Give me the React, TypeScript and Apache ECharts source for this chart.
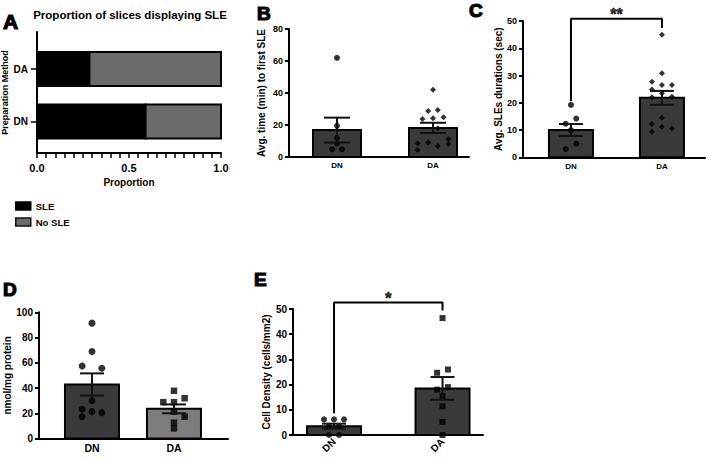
import React, { useEffect, useRef } from "react";
import * as echarts from "echarts";

const FONT = '"Liberation Sans", Arial, Helvetica, sans-serif';

// ---- A: proportion of slices displaying SLE ----
const prepMethods = ["DN", "DA"];
const sleShare = [0.59, 0.285];
const noSleShare = [0.41, 0.715];
const proportionLabels = [0, 0.5, 1];

// ---- shared group names ----
const groups = ["DN", "DA"];

// ---- B: average time (min) to first SLE ----
const bMeans = [16.8, 18.2];
const bSem = [7.8, 3.2];
const bDn = [62, 19.5, 12, 8.5, 4.8, 4.8];
const bDnJitter = [0, 0, 0, 0, -0.05, 0.05];
const bDa = [42, 28.8, 29.4, 23.8, 24.2, 24.8, 18, 8.5, 9, 6.9, 8.1, 11.2, 4.4];
const bDaJitter = [0, -0.05, 0.05, -0.11, 0, 0.11, 0.05, -0.16, -0.05, 0.05, 0.16, 0.16, -0.16];

// ---- C: average SLE duration (sec) ----
const cMeans = [10.0, 21.8];
const cSem = [2.2, 2.55];
const cDn = [19.2, 12.3, 14.2, 10, 5, 3];
const cDnJitter = [0, -0.058, 0.058, 0, 0.058, -0.058];
const cDa = [45, 30.8, 27.7, 26.5, 26.5, 24.9, 23.5, 22, 22.2, 14.5, 12.2, 11.2, 10.6, 9.4];
const cDaJitter = [0, 0, -0.11, 0, 0.11, -0.11, 0, -0.11, 0.11, 0, -0.11, 0, 0.11, -0.11];
const cBracket = [20.6, 50.8, 47.4];
const cStarY = 52.4;

// ---- D: nmol/mg protein ----
const dMeans = [42.8, 23.5];
const dSem = [8.8, 3.5];
const dDn = [91.4, 68.9, 57.5, 55.7, 30, 23.2, 21.3, 20.5, 17.3];
const dDnJitter = [0, 0, -0.12, 0.12, 0, -0.12, 0, 0.12, -0.12];
const dDa = [37.8, 28.8, 28.8, 31.9, 21.3, 17.3, 12.5, 8];
const dDaJitter = [0, -0.13, 0, 0.13, 0, 0.13, 0, 0];

// ---- E: cell density (cells/mm2) ----
const eMeans = [3.5, 18.5];
const eSem = [1.0, 4.5];
const eDn = [6.2, 6.2, 6.2, 3.6, 3.6, 0, 0];
const eDnJitter = [-0.092, 0, 0.092, -0.046, 0.046, -0.046, 0.046];
const eDa = [46.4, 24.7, 26, 18, 19, 15.4, 11.4, 5.2, 0];
const eDaJitter = [0, -0.05, 0.05, -0.05, 0.05, 0, 0, 0, 0];
const eBracket = [8.6, 52.6, 49.4];
const eStarY = 54.2;

const BLACK = "#000";
const DARK = "#3a3a3a";
const LIGHT = "#7d7d7d";
const A_GREY = "#6b6b6b";

const bold = (size: number) => ({ fontFamily: FONT, fontWeight: "bold" as const, fontSize: size, color: BLACK });

const groupAxis = (grid: number, min: number, max: number, size: number, margin: number, rotate = 0) => ({
  type: "value",
  gridIndex: grid,
  min,
  max,
  axisLine: { show: true, onZero: false, lineStyle: { color: BLACK, width: 2 } },
  axisTick: { show: false },
  splitLine: { show: false },
  axisLabel: {
    customValues: [1, 2],
    formatter: (v: number) => groups[Math.round(v) - 1] ?? "",
    margin,
    rotate,
    ...bold(size),
  },
});

const valueAxis = (grid: number, max: number, interval: number, name: string, nameGap: number, labelSize: number) => ({
  type: "value",
  gridIndex: grid,
  min: 0,
  max,
  interval,
  axisLine: { show: true, onZero: false, lineStyle: { color: BLACK, width: 2 } },
  axisTick: { show: true, length: 4, lineStyle: { color: BLACK, width: 2 } },
  splitLine: { show: false },
  axisLabel: { margin: 6, ...bold(labelSize) },
  name,
  nameLocation: "middle",
  nameGap,
  nameTextStyle: bold(10),
});

const barSeries = (axis: number, means: number[], colors: string[], barPx: number) => ({
  type: "custom",
  xAxisIndex: axis,
  yAxisIndex: axis,
  z: 2,
  silent: true,
  data: means.map((m, i) => [i + 1, m, i]),
  encode: { x: 0, y: 1 },
  renderItem: (_p: any, api: any) => {
    const x = api.value(0);
    const top = api.coord([x, api.value(1)]);
    const base = api.coord([x, 0]);
    return {
      type: "rect",
      shape: { x: top[0] - barPx / 2, y: top[1], width: barPx, height: base[1] - top[1] },
      style: { fill: colors[api.value(2)], stroke: BLACK, lineWidth: 2 },
    };
  },
});

const errorSeries = (axis: number, means: number[], sems: number[], capPx: number) => ({
  type: "custom",
  xAxisIndex: axis,
  yAxisIndex: axis,
  z: 4,
  silent: true,
  data: means.map((m, i) => [i + 1, m - sems[i], m + sems[i]]),
  encode: { x: 0, y: [1, 2] },
  renderItem: (_p: any, api: any) => {
    const x = api.value(0);
    const lo = api.coord([x, api.value(1)]);
    const hi = api.coord([x, api.value(2)]);
    const st = { stroke: "#111", lineWidth: 2 };
    return {
      type: "group",
      children: [
        { type: "line", shape: { x1: lo[0], y1: lo[1], x2: hi[0], y2: hi[1] }, style: st },
        { type: "line", shape: { x1: hi[0] - capPx, y1: hi[1], x2: hi[0] + capPx, y2: hi[1] }, style: st },
        { type: "line", shape: { x1: lo[0] - capPx, y1: lo[1], x2: lo[0] + capPx, y2: lo[1] }, style: st },
      ],
    };
  },
});

const dotSeries = (axis: number, cat: number, values: number[], jitter: number[], symbol: string, size: number) => ({
  type: "scatter",
  xAxisIndex: axis,
  yAxisIndex: axis,
  z: 3,
  clip: false,
  silent: true,
  symbol,
  symbolSize: size,
  itemStyle: { color: BLACK },
  data: values.map((v, i) => [cat + jitter[i], v]),
});

const bracketSeries = (axis: number, b: number[]) => ({
  type: "line",
  xAxisIndex: axis,
  yAxisIndex: axis,
  z: 5,
  clip: false,
  silent: true,
  symbol: "none",
  lineStyle: { color: BLACK, width: 2 },
  data: [
    [1, b[0]],
    [1, b[1]],
    [2, b[1]],
    [2, b[2]],
  ],
});

const starSeries = (axis: number, y: number, stars: string, size: number) => ({
  type: "scatter",
  xAxisIndex: axis,
  yAxisIndex: axis,
  z: 5,
  clip: false,
  silent: true,
  symbolSize: 1,
  itemStyle: { color: "transparent" },
  label: {
    show: true,
    position: "inside",
    formatter: stars,
    textBorderColor: BLACK,
    textBorderWidth: 0.6,
    ...bold(size),
  },
  data: [[1.5, y]],
});

const proportionSeries = (name: string, starts: number[], widths: number[], fill: string) => ({
  type: "custom",
  name,
  xAxisIndex: 0,
  yAxisIndex: 0,
  z: 2,
  silent: true,
  itemStyle: { color: fill, borderColor: BLACK, borderWidth: 1.5 },
  data: prepMethods.map((_, i) => [starts[i], starts[i] + widths[i], i + 1]),
  encode: { x: [0, 1], y: 2 },
  renderItem: (_p: any, api: any) => {
    const a = api.coord([api.value(0), api.value(2)]);
    const b = api.coord([api.value(1), api.value(2)]);
    return {
      type: "rect",
      shape: { x: a[0], y: a[1] - 17, width: b[0] - a[0], height: 34 },
      style: { fill, stroke: BLACK, lineWidth: 2 },
    };
  },
});

const letter = (text: string, x: number, y: number, size = 19) => ({
  type: "text",
  x,
  y,
  style: {
    text,
    font: `bold ${size}px ${FONT}`,
    fill: BLACK,
    stroke: BLACK,
    lineWidth: 1.2,
    verticalAlign: "middle",
    align: "left",
  },
});

function buildOption() {
  const zeros = prepMethods.map(() => 0);
  return {
    animation: false,
    backgroundColor: "#fff",
    textStyle: { fontFamily: FONT },
    grid: [
      { left: 37, top: 32, width: 184, height: 121, outerBoundsMode: "none" },
      { left: 289, top: 29, width: 180, height: 128, outerBoundsMode: "none" },
      { left: 523, top: 21, width: 182, height: 136.3, outerBoundsMode: "none" },
      { left: 39, top: 312.3, width: 189, height: 126.2, outerBoundsMode: "none" },
      { left: 293, top: 309, width: 190, height: 126, outerBoundsMode: "none" },
    ],
    legend: {
      orient: "vertical",
      left: 10,
      top: 195,
      icon: "rect",
      itemWidth: 15,
      itemHeight: 8,
      itemGap: 4,
      selectedMode: false,
      textStyle: { fontFamily: FONT, fontSize: 9.5, fontWeight: "bold", color: BLACK, lineHeight: 12 },
      data: [
        { name: "SLE", itemStyle: { color: BLACK, borderColor: BLACK, borderWidth: 1.5 } },
        { name: "No SLE", itemStyle: { color: A_GREY, borderColor: "#111", borderWidth: 1.5 } },
      ],
    },
    xAxis: [
      {
        type: "value",
        gridIndex: 0,
        min: 0,
        max: 1,
        interval: 0.05,
        axisLine: { show: true, onZero: false, lineStyle: { color: BLACK, width: 2 } },
        axisTick: { show: true, length: 5, lineStyle: { color: BLACK, width: 1.5 } },
        splitLine: { show: false },
        axisLabel: {
          customValues: proportionLabels,
          formatter: (v: number) => v.toFixed(1),
          margin: 9,
          ...bold(11),
        },
        name: "Proportion",
        nameLocation: "middle",
        nameGap: 24,
        nameTextStyle: bold(10),
      },
      groupAxis(1, 0.5, 2.375, 8, 4),
      groupAxis(2, 0.473, 2.473, 8, 5),
      groupAxis(3, 0.354, 2.659, 10.5, 4),
      groupAxis(4, 0.622, 2.373, 10, 5, 45),
    ],
    yAxis: [
      {
        type: "value",
        gridIndex: 0,
        min: 0.4,
        max: 2.705,
        axisLine: { show: true, onZero: false, lineStyle: { color: BLACK, width: 2 } },
        axisTick: { show: true, customValues: [1, 2], length: 6, lineStyle: { color: BLACK, width: 1.5 } },
        splitLine: { show: false },
        axisLabel: {
          customValues: [1, 2],
          formatter: (v: number) => prepMethods[Math.round(v) - 1] ?? "",
          margin: 9,
          ...bold(10),
        },
        name: "Preparation Method",
        nameLocation: "middle",
        nameGap: 25,
        nameTextStyle: bold(9),
      },
      valueAxis(1, 80, 20, "Avg. time (min) to first SLE", 23, 9),
      valueAxis(2, 50, 10, "Avg. SLEs durations (sec)", 20, 9),
      valueAxis(3, 100, 20, "nmol/mg protein", 26, 10),
      valueAxis(4, 50, 10, "Cell Density (cells/mm2)", 20, 10),
    ],
    series: [
      proportionSeries("SLE", zeros, sleShare, BLACK),
      proportionSeries("No SLE", sleShare, noSleShare, A_GREY),

      barSeries(1, bMeans, [DARK, DARK], 48),
      dotSeries(1, 1, bDn, bDnJitter, "circle", 6),
      dotSeries(1, 2, bDa, bDaJitter, "diamond", 6),
      errorSeries(1, bMeans, bSem, 13),

      barSeries(2, cMeans, [DARK, DARK], 44),
      dotSeries(2, 1, cDn, cDnJitter, "circle", 6),
      dotSeries(2, 2, cDa, cDaJitter, "diamond", 6),
      errorSeries(2, cMeans, cSem, 12),
      bracketSeries(2, cBracket),
      starSeries(2, cStarY, "**", 16),

      barSeries(3, dMeans, [DARK, LIGHT], 54),
      dotSeries(3, 1, dDn, dDnJitter, "circle", 7),
      dotSeries(3, 2, dDa, dDaJitter, "rect", 6.5),
      errorSeries(3, dMeans, dSem, 12),

      barSeries(4, eMeans, [DARK, DARK], 54),
      dotSeries(4, 1, eDn, eDnJitter, "circle", 6),
      dotSeries(4, 2, eDa, eDaJitter, "rect", 6),
      errorSeries(4, eMeans, eSem, 12),
      bracketSeries(4, eBracket),
      starSeries(4, eStarY, "*", 17),
    ],
    graphic: [
      letter("A", 3, 21, 21),
      {
        type: "text",
        x: 130,
        y: 15,
        style: {
          text: "Proportion of slices displaying SLE",
          font: `bold 11.5px ${FONT}`,
          fill: BLACK,
          align: "center",
          verticalAlign: "middle",
        },
      },
      letter("B", 257, 13),
      letter("C", 469, 10),
      letter("D", 3, 289),
      letter("E", 254, 279),
    ],
  };
}

export default function App() {
  const ref = useRef<HTMLDivElement>(null);
  useEffect(() => {
    if (!ref.current) return;
    const chart = echarts.init(ref.current, undefined, { renderer: "svg" });
    chart.setOption(buildOption() as any);
    return () => chart.dispose();
  }, []);
  return (
    <div
      ref={ref}
      style={{ position: "absolute", left: 0, top: 0, width: 709, height: 459, background: "#fff" }}
    />
  );
}
